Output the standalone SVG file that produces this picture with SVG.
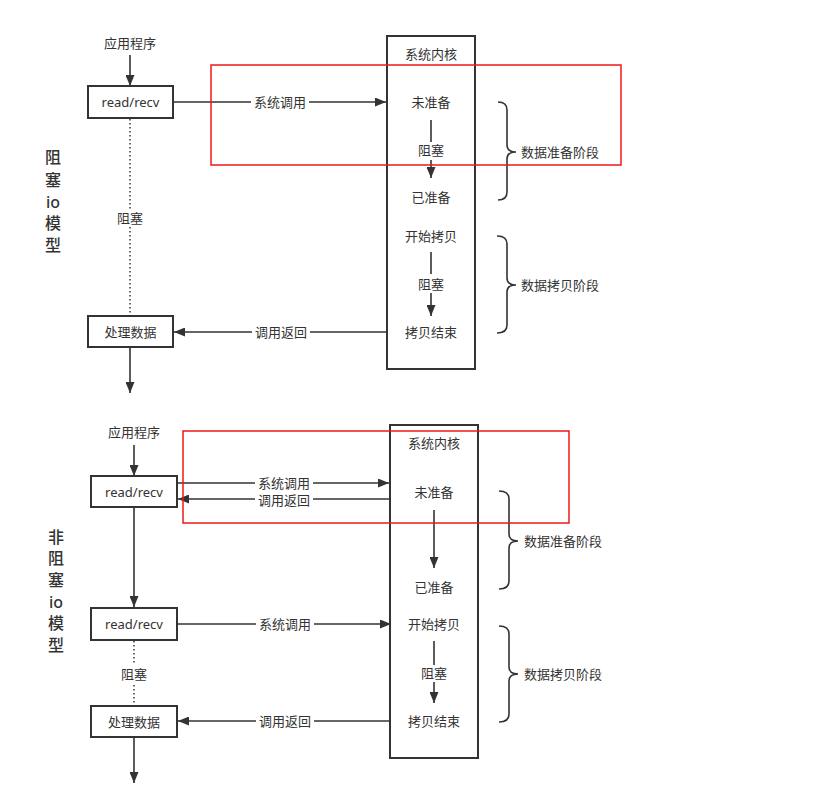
<svg xmlns="http://www.w3.org/2000/svg" width="828" height="794" viewBox="0 0 828 794">
<style>
.t{font-family:"Noto Sans","Noto Sans CJK SC",sans-serif;font-size:13px;fill:#333;text-anchor:middle;dominant-baseline:central}
.big{font-family:"Noto Sans","Noto Sans CJK SC",sans-serif;font-size:16px;fill:#333;text-anchor:middle;dominant-baseline:central;font-weight:500}
.lab{font-family:"Noto Sans","Noto Sans CJK SC",sans-serif;font-size:13px;fill:#333;dominant-baseline:central}
.box{fill:#fff;stroke:#333;stroke-width:2}
.ln{stroke:#333;stroke-width:1.6;fill:none}
.dot{stroke:#444;stroke-width:1.6;fill:none;stroke-dasharray:1.5 2.5}
.br{stroke:#333;stroke-width:1.6;fill:none}
.red{fill:none;stroke:#f01818;stroke-width:1.5}
.bg{fill:#fff}
</style>
<defs>
<marker id="ah" markerUnits="userSpaceOnUse" markerWidth="11" markerHeight="9" refX="11" refY="4.5" orient="auto">
<path d="M0,0 L11,4.5 L0,9 z" fill="#333"/>
</marker>
</defs>
<rect width="828" height="794" fill="#fff"/>

<!-- ===== Top: blocking io ===== -->
<g id="title-blocking">
<text class="big" x="53" y="157">阻</text>
<text class="big" x="53" y="180">塞</text>
<text class="big" x="53" y="202">io</text>
<text class="big" x="53" y="223">模</text>
<text class="big" x="53" y="245">型</text>
</g>
<g id="app1"><text class="t" x="130" y="43">应用程序</text></g>
<g id="kernel1">
<rect class="box" x="387" y="36" width="88" height="333"/>
<text class="t" x="431" y="54">系统内核</text>
</g>
<g id="k1-notready"><text class="t" x="431" y="102">未准备</text></g>
<g id="k1-ready"><text class="t" x="431" y="197">已准备</text></g>
<g id="k1-copystart"><text class="t" x="431" y="236">开始拷贝</text></g>
<g id="k1-copyend"><text class="t" x="431" y="332">拷贝结束</text></g>

<g id="connectors1">
<line class="ln" x1="130" y1="55" x2="130" y2="86" marker-end="url(#ah)"/>
<line class="ln" x1="173" y1="102" x2="386" y2="102" marker-end="url(#ah)"/>
<rect class="bg" x="251" y="94" width="58" height="16"/>
<text class="t" x="280" y="102">系统调用</text>
<line class="dot" x1="130" y1="119" x2="130" y2="315"/>
<rect class="bg" x="116" y="209" width="28" height="18"/>
<text class="t" x="130" y="218">阻塞</text>
<line class="ln" x1="387" y1="332" x2="174" y2="332" marker-end="url(#ah)"/>
<rect class="bg" x="252" y="324" width="58" height="16"/>
<text class="t" x="281" y="332">调用返回</text>
<line class="ln" x1="130" y1="348" x2="130" y2="393" marker-end="url(#ah)"/>
<line class="ln" x1="431" y1="120" x2="431" y2="142"/>
<text class="t" x="431" y="150">阻塞</text>
<line class="ln" x1="431" y1="160" x2="431" y2="178" marker-end="url(#ah)"/>
<line class="ln" x1="431" y1="252" x2="431" y2="274"/>
<text class="t" x="431" y="284">阻塞</text>
<line class="ln" x1="431" y1="293" x2="431" y2="316" marker-end="url(#ah)"/>
</g>

<g id="read1">
<rect class="box" x="88" y="86" width="85" height="32"/>
<text class="t" x="130.5" y="102">read/recv</text>
</g>
<g id="process1">
<rect class="box" x="88" y="316" width="85" height="31"/>
<text class="t" x="130.5" y="331.5">处理数据</text>
</g>

<g id="brace1-prep">
<path class="br" d="M498,102 Q507,102 507,110 L507,145 Q507,152 516,152 Q507,152 507,159 L507,192 Q507,200 498,200"/>
<text class="lab" x="521" y="152">数据准备阶段</text>
</g>
<g id="brace1-copy">
<path class="br" d="M497,236 Q507,236 507,244 L507,278 Q507,285 516,285 Q507,285 507,292 L507,325 Q507,333 497,333"/>
<text class="lab" x="521" y="285">数据拷贝阶段</text>
</g>
<rect id="highlight1" class="red" x="211" y="65" width="410" height="100"/>

<!-- ===== Bottom: non-blocking io ===== -->
<g id="title-nonblocking">
<text class="big" x="56" y="537">非</text>
<text class="big" x="56" y="558">阻</text>
<text class="big" x="56" y="580">塞</text>
<text class="big" x="56" y="602">io</text>
<text class="big" x="56" y="623">模</text>
<text class="big" x="56" y="645">型</text>
</g>
<g id="app2"><text class="t" x="134" y="432">应用程序</text></g>
<g id="kernel2">
<rect class="box" x="390" y="425" width="88" height="333"/>
<text class="t" x="434" y="443">系统内核</text>
</g>
<g id="k2-notready"><text class="t" x="434" y="492">未准备</text></g>
<g id="k2-ready"><text class="t" x="434" y="587">已准备</text></g>
<g id="k2-copystart"><text class="t" x="434" y="624">开始拷贝</text></g>
<g id="k2-copyend"><text class="t" x="434" y="721">拷贝结束</text></g>

<g id="connectors2">
<line class="ln" x1="134" y1="445" x2="134" y2="476" marker-end="url(#ah)"/>
<line class="ln" x1="177" y1="483" x2="389" y2="483" marker-end="url(#ah)"/>
<rect class="bg" x="255" y="476" width="58" height="14"/>
<text class="t" x="284" y="483">系统调用</text>
<line class="ln" x1="390" y1="499" x2="178" y2="499" marker-end="url(#ah)"/>
<rect class="bg" x="255" y="492" width="58" height="15"/>
<text class="t" x="284" y="500">调用返回</text>
<line class="ln" x1="134" y1="508" x2="134" y2="607" marker-end="url(#ah)"/>
<line class="ln" x1="177" y1="624" x2="391" y2="624" marker-end="url(#ah)"/>
<rect class="bg" x="256" y="616" width="58" height="16"/>
<text class="t" x="285" y="624">系统调用</text>
<line class="dot" x1="134" y1="641" x2="134" y2="705"/>
<rect class="bg" x="120" y="665" width="28" height="18"/>
<text class="t" x="134" y="674">阻塞</text>
<line class="ln" x1="390" y1="721" x2="178" y2="721" marker-end="url(#ah)"/>
<rect class="bg" x="256" y="713" width="58" height="16"/>
<text class="t" x="285" y="721">调用返回</text>
<line class="ln" x1="134" y1="738" x2="134" y2="783" marker-end="url(#ah)"/>
<line class="ln" x1="434" y1="510" x2="434" y2="568" marker-end="url(#ah)"/>
<line class="ln" x1="434" y1="641" x2="434" y2="665"/>
<text class="t" x="434" y="673">阻塞</text>
<line class="ln" x1="434" y1="682" x2="434" y2="703" marker-end="url(#ah)"/>
</g>

<g id="read2a">
<rect class="box" x="91" y="476" width="86" height="31"/>
<text class="t" x="134" y="491.5">read/recv</text>
</g>
<g id="read2b">
<rect class="box" x="91" y="608" width="86" height="32"/>
<text class="t" x="134" y="624">read/recv</text>
</g>
<g id="process2">
<rect class="box" x="91" y="706" width="86" height="31"/>
<text class="t" x="134" y="721.5">处理数据</text>
</g>

<g id="brace2-prep">
<path class="br" d="M499,491 Q509,491 509,499 L509,534 Q509,541 518,541 Q509,541 509,548 L509,581 Q509,589 499,589"/>
<text class="lab" x="524" y="541">数据准备阶段</text>
</g>
<g id="brace2-copy">
<path class="br" d="M499,626 Q509,626 509,634 L509,667 Q509,674 518,674 Q509,674 509,681 L509,714 Q509,722 499,722"/>
<text class="lab" x="524" y="674">数据拷贝阶段</text>
</g>
<rect id="highlight2" class="red" x="183" y="431" width="386" height="92"/>
</svg>
